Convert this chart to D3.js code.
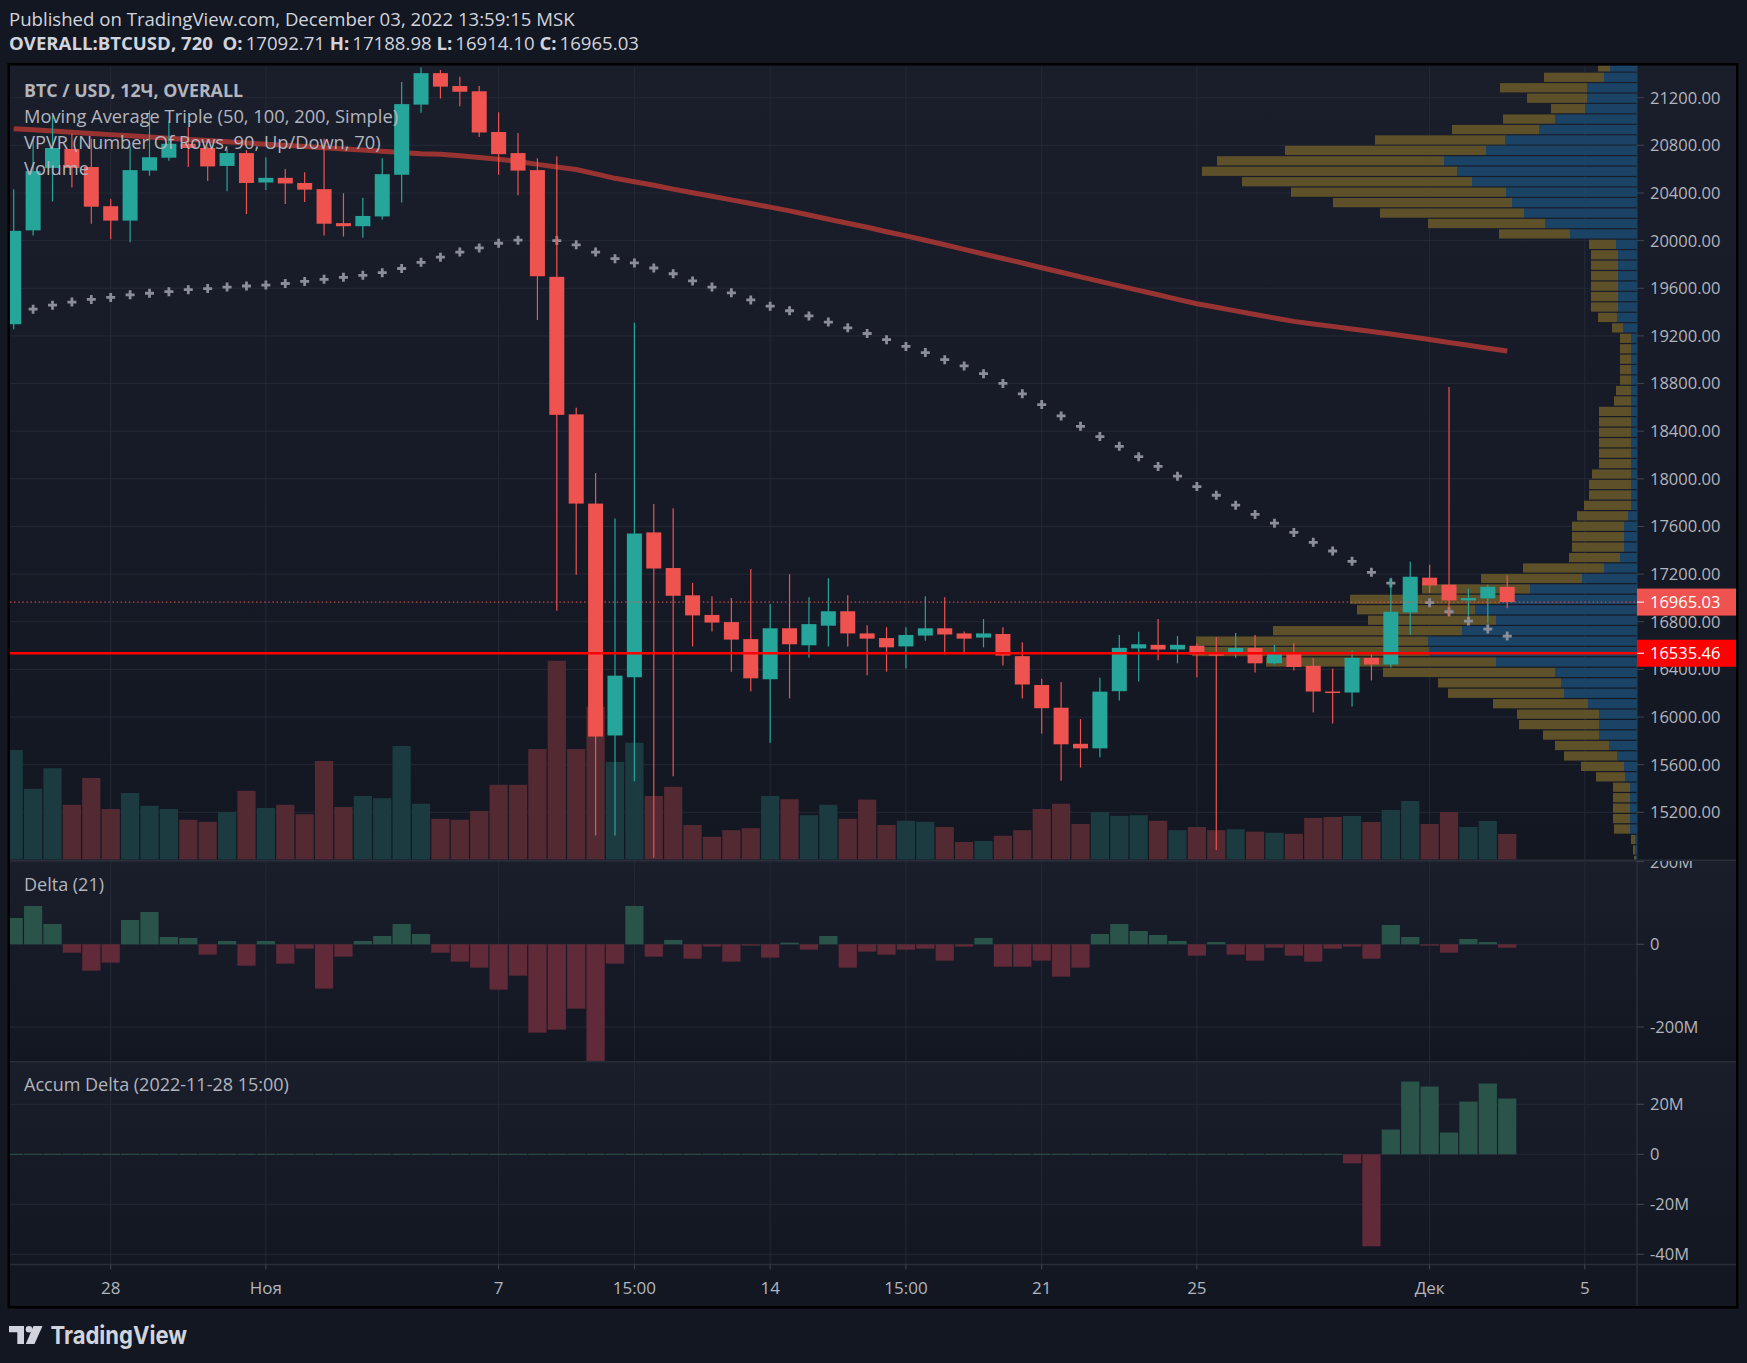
<!DOCTYPE html>
<html><head><meta charset="utf-8">
<script src="https://cdn.jsdelivr.net/npm/d3@7/dist/d3.min.js"></script>
<style>html,body{margin:0;padding:0;background:#131722;}svg{display:block}</style>
</head><body>
<svg id="c" width="1747" height="1363"></svg>
<script>
// ---------------- DATA ----------------
const openP  = [19298,20086,20610,20770,20618,20289,20168,20588,20696,20813,20778,20627,20735,20488,20527,20484,20432,20147,20121,20203,20553,21142,21406,21298,21254,20912,20735,20592,19696,18541,17792,15845,16334,17550,17251,17022,16857,16797,16654,16317,16745,16602,16767,16888,16702,16663,16593,16684,16745,16702,16667,16697,16511,16269,16078,15775,15737,16217,16576,16606,16567,16598,16528,16528,16580,16451,16546,16430,16214,16206,16497,16441,16878,17170,17111,16979,16996,17092.71];
const highP  = [20432,20856,21051,20900,20856,20350,20791,21094,21008,20951,20791,20770,20761,20700,20601,20575,20856,20398,20359,20692,21332,21453,21432,21376,21298,21077,20904,20692,20709,18597,18048,17667,19311,17788,17753,17126,17013,17000,17243,16948,17199,17005,17165,17022,16771,16754,16754,17013,17005,16719,16823,16754,16628,16321,16295,15983,16330,16689,16715,16823,16680,16619,16671,16706,16689,16606,16619,16495,16405,16559,16542,17170,17304,17279,18770,17077,17111,17188.98];
const lowP   = [19255,20043,20328,20445,20142,20012,19986,20545,20670,20618,20501,20415,20224,20424,20307,20324,20043,20034,20025,20177,20320,21073,21194,21129,20869,20553,20380,19333,16892,17195,15005,15005,15460,14819,15503,16593,16719,16381,16217,15784,16156,16498,16593,16593,16351,16381,16407,16641,16524,16533,16585,16433,16156,15862,15464,15576,15663,16139,16299,16477,16451,16334,14884,16498,16373,16442,16390,16038,15945,16088,16307,16416,16691,17041,16845,16850,16786,16914.10];
const closeP = [20082,20584,20778,20610,20285,20168,20592,20700,20813,20778,20623,20735,20484,20527,20480,20428,20142,20121,20207,20558,21146,21406,21293,21250,20908,20726,20588,19701,18537,17792,15836,16347,17541,17247,17018,16853,16793,16650,16325,16745,16611,16780,16888,16702,16658,16585,16689,16745,16693,16658,16702,16516,16273,16074,15771,15737,16213,16581,16611,16567,16606,16524,16516,16580,16451,16546,16420,16214,16203,16497,16441,16884,17178,17105,16979,16999,17094,16965.03];
const volume = [548,354,457,274,408,253,333,269,253,199,189,238,344,258,274,227,493,263,318,307,568,279,204,199,243,374,374,553,994,553,764,488,584,318,364,173,114,147,157,318,302,222,274,204,300,173,194,189,163,88,93,119,147,253,279,178,238,219,222,194,147,163,147,152,140,134,129,208,213,218,188,248,293,178,238,163,193,128];
const maSlow = [20940,20930,20920,20910,20900,20890,20880,20870,20860,20850,20840,20830,20820,20810,20800,20790,20780,20770,20760,20750,20740,20730,20725,20712,20698,20683,20665,20640,20618,20597,20560,20523,20495,20465,20432,20402,20372,20342,20311,20281,20250,20215,20180,20146,20112,20075,20040,20003,19965,19927,19888,19850,19812,19772,19734,19696,19658,19620,19582,19545,19507,19470,19440,19410,19380,19350,19322,19300,19280,19258,19237,19216,19193,19170,19145,19121,19097,19073];
const maFast = [19389,19424,19458,19484,19506,19523,19545,19558,19571,19588,19597,19610,19619,19627,19640,19657,19675,19692,19709,19731,19766,19818,19861,19904,19939,19978,20004,20021,20000,19965,19904,19848,19813,19770,19722,19662,19610,19562,19502,19450,19411,19368,19316,19268,19220,19168,19112,19060,19000,18948,18883,18801,18714,18623,18528,18441,18355,18273,18186,18104,18022,17935,17862,17779,17701,17628,17550,17467,17394,17307,17215,17125,17041,16960,16884,16806,16738,16680];
const delta = [63.7,92.7,49.2,-20.2,-63.7,-44.3,58.8,78.2,17.7,15.3,-25,8,-51.6,8,-46.7,-10.5,-107.2,-29.8,8,20.2,49.2,25,-20.2,-41.9,-56.4,-109.6,-75.8,-213.6,-206.3,-155.6,-282.1,-46.7,92.7,-29.8,10.5,-34.7,-5.6,-41.9,-3.2,-32.2,4,-12.9,20.2,-56.4,-17.7,-25,-12.9,-10.5,-39.5,-5.6,15.3,-54,-54,-39.5,-78.2,-56.4,25,49.2,32.2,22.6,8,-27.4,5.6,-25,-39.5,-8.1,-27.4,-41.9,-10.5,-5.6,-34.7,46.7,17.7,-3.2,-20.2,12.9,5.6,-8.1];
const accumDelta = [0,0,0,0,0,0,0,0,0,0,0,0,0,0,0,0,0,0,0,0,0,0,0,0,0,0,0,0,0,0,0,0,0,0,0,0,0,0,0,0,0,0,0,0,0,0,0,0,0,0,0,0,0,0,0,0,0,0,0,0,0,0,0,0,0,0,0,0,0,-3.6,-36.8,9.9,29.1,27.1,8.7,21.1,28.3,22.3];
const vpUp   = [27,33,50,50,52,82,98,132,151,193,180,165,131,125,113,92,67,21,19,19,19,19,19,19,20,14,6,6,6,6,6,6,6,6,6,6,6,6,6,6,6,6,6,9,13,13,13,17,33,55,107,137,162,141,175,209,208,141,82,76,73,49,38,38,38,28,20,13,12,7,7,7,7,7,2,2,1];
const vpDown = [12,60,87,60,34,52,87,130,201,227,255,230,215,179,144,117,71,27,27,27,27,27,27,27,19,11,11,11,11,11,11,15,17,32,32,32,32,32,32,39,42,42,47,51,52,52,52,51,81,101,108,150,118,128,189,232,237,230,172,123,116,95,82,80,56,54,53,43,29,17,17,17,17,16,4,2,2];
const vpTopPrice = 21497.6;
const vpRowSize = 87.66;
const priceTicks = [21200,20800,20400,20000,19600,19200,18800,18400,18000,17600,17200,16800,16400,16000,15600,15200];
const timeTickIdx = [5,13,25,32,39,46,53,61,73,81];
const timeTickLabels = ["28","Ноя","7","15:00","14","15:00","21","25","Дек","5"];
const deltaTicks = [200,0,-200];
const deltaTickLabels = ["200M","0","-200M"];
const accTicks = [20,0,-20,-40];
const accTickLabels = ["20M","0","-20M","-40M"];
const lastPrice = 16965.03;
const pocPrice = 16535.46;

// ---------------- LAYOUT ----------------
const W = 1747, H = 1363;
const L = 10, R = 1637, AR = 1736;
const mainTop = 65.5, mainBot = 859.6, dTop = 861, dBot = 1061, aTop = 1062.5, aBot = 1264.5, tBot = 1306;
const FONT = "'Open Sans','Noto Sans',sans-serif";
const TXT = "#b2b5be";
const GREEN = "#26a69a", RED = "#ef5350";

const x = d3.scaleLinear().domain([0, 81]).range([13.72, 1584.8]);
const y = d3.scaleLinear().domain([15200, 21200]).range([812.3, 97.7]);
const yVol = d3.scaleLinear().domain([0, 1000]).range([mainBot, mainBot - 200]);
const yD = d3.scaleLinear().domain([-200, 200]).range([1027, 861.6]);
const yA = d3.scaleLinear().domain([-40, 20]).range([1254.3, 1104.3]);
const vpW = d3.scaleLinear().domain([0, d3.max(vpUp.map((u, k) => u + vpDown[k]))]).range([0, 445]);
const step = x(1) - x(0);

const svg = d3.select('#c');
svg.append('rect').attr('width', W).attr('height', H).attr('fill', '#131722');
const defs = svg.append('defs');
const g = defs.append('linearGradient').attr('id', 'pg').attr('x1', 0).attr('y1', 0).attr('x2', 0).attr('y2', 1);
g.append('stop').attr('offset', 0).attr('stop-color', '#1a1e2b');
g.append('stop').attr('offset', 1).attr('stop-color', '#131722');
function clip(id, x0, y0, w, h) { defs.append('clipPath').attr('id', id).append('rect').attr('x', x0).attr('y', y0).attr('width', w).attr('height', h); }
clip('cm', L, mainTop, R - L, mainBot - mainTop);
clip('cd', L, dTop, R - L, dBot - dTop);
clip('ca', L, aTop, R - L, aBot - aTop);
clip('cmx', R, mainTop, AR - R, mainBot - mainTop);
clip('cdx', R, dTop, AR - R, dBot - dTop);
clip('cax', R, aTop, AR - R, aBot - aTop);

// pane backgrounds
[[mainTop, mainBot], [dTop, dBot], [aTop, aBot]].forEach(([t, b]) => {
  svg.append('rect').attr('x', L).attr('y', t).attr('width', AR - L).attr('height', b - t).attr('fill', 'url(#pg)');
});
svg.append('rect').attr('x', L).attr('y', aBot).attr('width', AR - L).attr('height', tBot - aBot).attr('fill', '#131722');

// grid
const grid = svg.append('g').attr('stroke', '#252935').attr('stroke-width', 1);
timeTickIdx.forEach(i => grid.append('line').attr('x1', x(i)).attr('x2', x(i)).attr('y1', mainTop).attr('y2', aBot));
priceTicks.forEach(p => grid.append('line').attr('x1', L).attr('x2', R).attr('y1', y(p)).attr('y2', y(p)));
deltaTicks.forEach(v => grid.append('line').attr('x1', L).attr('x2', R).attr('y1', yD(v)).attr('y2', yD(v)));
accTicks.forEach(v => grid.append('line').attr('x1', L).attr('x2', R).attr('y1', yA(v)).attr('y2', yA(v)));

// separators
const sep = svg.append('g').attr('stroke', '#2a2e39').attr('stroke-width', 1.5);
[860.3, 1061.8, aBot].forEach(v => sep.append('line').attr('x1', L).attr('x2', AR).attr('y1', v).attr('y2', v));
sep.append('line').attr('x1', R).attr('x2', R).attr('y1', mainTop).attr('y2', tBot);

// ---------------- MAIN PANE ----------------
const m = svg.append('g').attr('clip-path', 'url(#cm)');
// VPVR
vpUp.forEach((u, k) => {
  const pTop = vpTopPrice - k * vpRowSize;
  const y0 = y(pTop), y1 = y(pTop - vpRowSize);
  const h = y1 - y0 - 1.2;
  m.append('rect').attr('x', R - vpW(u)).attr('y', y0).attr('width', vpW(u)).attr('height', h).attr('fill', '#1a4366');
  m.append('rect').attr('x', R - vpW(u + vpDown[k])).attr('y', y0).attr('width', vpW(vpDown[k])).attr('height', h).attr('fill', '#5e5029');
});
// volume
volume.forEach((v, i) => {
  const up = closeP[i] >= openP[i];
  m.append('rect').attr('x', x(i) - step / 2 + 0.6).attr('y', yVol(v)).attr('width', step - 1.2).attr('height', yVol(0) - yVol(v))
    .attr('fill', up ? '#1b3b41' : '#532a32');
});
// slow MA
m.append('path').datum(maSlow).attr('fill', 'none').attr('stroke', '#a33533').attr('stroke-opacity', 0.92).attr('stroke-width', 5)
  .attr('stroke-linejoin', 'round').attr('d', d3.line().x((d, i) => x(i)).y(d => y(d)));
// fast MA crosses
maFast.forEach((v, i) => {
  m.append('path').attr('transform', `translate(${x(i)},${y(v)})`).attr('d', 'M-4.5,0H4.5M0,-4.5V4.5')
    .attr('stroke', '#8b8e98').attr('stroke-width', 2.8);
});
// candles
openP.forEach((o, i) => {
  const c = closeP[i], up = c >= o, col = up ? GREEN : RED;
  m.append('line').attr('x1', x(i)).attr('x2', x(i)).attr('y1', y(highP[i])).attr('y2', y(lowP[i])).attr('stroke', col).attr('stroke-width', 1.2);
  const top = y(Math.max(o, c)), bot = y(Math.min(o, c));
  m.append('rect').attr('x', x(i) - 7.5).attr('y', top).attr('width', 15).attr('height', Math.max(1.5, bot - top)).attr('fill', col);
});
// price lines
m.append('line').attr('x1', L).attr('x2', R).attr('y1', y(lastPrice)).attr('y2', y(lastPrice)).attr('stroke', RED).attr('stroke-width', 1).attr('stroke-dasharray', '1.5,2.6');
m.append('line').attr('x1', L).attr('x2', R).attr('y1', y(pocPrice)).attr('y2', y(pocPrice)).attr('stroke', '#ff0000').attr('stroke-width', 2.6);

// legend
const leg = svg.append('g').attr('font-family', FONT).attr('font-size', 18.3).attr('fill', TXT);
leg.append('text').attr('x', 24).attr('y', 96.5).attr('font-weight', 'bold').attr('font-size', 17.8).text('BTC / USD, 12Ч, OVERALL');
leg.append('text').attr('x', 24).attr('y', 122.5).text('Moving Average Triple (50, 100, 200, Simple)');
leg.append('text').attr('x', 24).attr('y', 148.5).text('VPVR (Number Of Rows, 90, Up/Down, 70)');
leg.append('text').attr('x', 24).attr('y', 174.5).text('Volume');

// ---------------- DELTA PANE ----------------
const d = svg.append('g').attr('clip-path', 'url(#cd)');
delta.forEach((v, i) => {
  const y0 = Math.min(yD(v), yD(0)), h = Math.abs(yD(v) - yD(0));
  d.append('rect').attr('x', x(i) - step / 2 + 0.6).attr('y', y0).attr('width', step - 1.2).attr('height', h).attr('fill', v >= 0 ? '#2a5449' : '#612a38');
});
svg.append('text').attr('x', 24).attr('y', 890.5).attr('font-family', FONT).attr('font-size', 18).attr('fill', TXT).text('Delta (21)');

// ---------------- ACCUM DELTA PANE ----------------
const a = svg.append('g').attr('clip-path', 'url(#ca)');
accumDelta.forEach((v, i) => {
  const y0 = Math.min(yA(v), yA(0)), h = Math.max(1, Math.abs(yA(v) - yA(0)));
  a.append('rect').attr('x', x(i) - step / 2 + 0.6).attr('y', v === 0 ? yA(0) - 0.5 : y0).attr('width', step - 1.2).attr('height', h).attr('fill', v >= 0 ? '#2a5449' : '#612a38');
});
svg.append('text').attr('x', 24).attr('y', 1091).attr('font-family', FONT).attr('font-size', 18).attr('fill', TXT).text('Accum Delta (2022-11-28 15:00)');

// ---------------- AXES ----------------
const ax = svg.append('g').attr('font-family', FONT).attr('font-size', 16.5).attr('fill', TXT);
const pax = ax.append('g').attr('clip-path', 'url(#cmx)');
priceTicks.forEach(p => {
  pax.append('line').attr('x1', R).attr('x2', R + 7).attr('y1', y(p)).attr('y2', y(p)).attr('stroke', '#434651');
  pax.append('text').attr('x', 1650).attr('y', y(p)).attr('dy', '0.36em').text(d3.format('.2f')(p));
});
function tag(p, col) {
  pax.append('rect').attr('x', R).attr('y', y(p) - 13.5).attr('width', AR - R).attr('height', 27).attr('fill', col);
  pax.append('line').attr('x1', R).attr('x2', R + 7).attr('y1', y(p)).attr('y2', y(p)).attr('stroke', '#fff');
  pax.append('text').attr('x', 1650).attr('y', y(p)).attr('dy', '0.36em').attr('fill', '#fff').text(d3.format('.2f')(p));
}
tag(lastPrice, RED);
tag(pocPrice, '#ff0000');
const dax = ax.append('g').attr('clip-path', 'url(#cdx)');
deltaTicks.forEach((v, k) => {
  dax.append('line').attr('x1', R).attr('x2', R + 7).attr('y1', yD(v)).attr('y2', yD(v)).attr('stroke', '#434651');
  dax.append('text').attr('x', 1650).attr('y', yD(v)).attr('dy', '0.36em').text(deltaTickLabels[k]);
});
const aax = ax.append('g').attr('clip-path', 'url(#cax)');
accTicks.forEach((v, k) => {
  aax.append('line').attr('x1', R).attr('x2', R + 7).attr('y1', yA(v)).attr('y2', yA(v)).attr('stroke', '#434651');
  aax.append('text').attr('x', 1650).attr('y', yA(v)).attr('dy', '0.36em').text(accTickLabels[k]);
});
// time axis
timeTickIdx.forEach((t, k) => {
  ax.append('line').attr('x1', x(t)).attr('x2', x(t)).attr('y1', aBot).attr('y2', aBot + 5).attr('stroke', '#434651');
  ax.append('text').attr('x', x(t)).attr('y', 1294).attr('text-anchor', 'middle').attr('font-size', 17).text(timeTickLabels[k]);
});

// frame
svg.append('rect').attr('x', 8.75).attr('y', 64.25).attr('width', AR - 8.75 + 1.25).attr('height', tBot - 64.25 + 1.25)
  .attr('fill', 'none').attr('stroke', '#000').attr('stroke-width', 2.5);

// header
const hd = svg.append('g').attr('font-family', FONT).attr('font-size', 18.6).attr('fill', '#d1d4dc');
hd.append('text').attr('x', 9).attr('y', 25.5).text('Published on TradingView.com, December 03, 2022 13:59:15 MSK');
const l2 = hd.append('text').attr('x', 9).attr('y', 50);
[['OVERALL:BTCUSD, 720', true, 0], ['\u00a0\u00a0O:', true, 0], ['17092.71', false, 3], [' H:', true, 0], ['17188.98', false, 3], [' L:', true, 0], ['16914.10', false, 3], [' C:', true, 0], ['16965.03', false, 3]]
  .forEach(([t, b, dx]) => l2.append('tspan').attr('font-weight', b ? 'bold' : 'normal').attr('dx', dx).text(t));

// logo
const lg = svg.append('g').attr('fill', '#d1d4dc');
lg.append('path').attr('d', 'M9,1326H24V1344H17.3V1332.3H9Z');
lg.append('circle').attr('cx', 29).attr('cy', 1329.3).attr('r', 3.3);
lg.append('path').attr('d', 'M33.5,1326H42.5L34.5,1344H25.8Z');
lg.append('text').attr('x', 50.5).attr('y', 1344).attr('font-family', "Inter,'Open Sans',sans-serif").attr('font-weight', 'bold')
  .attr('font-size', 24.5).attr('textLength', 136.5).attr('lengthAdjust', 'spacingAndGlyphs').text('TradingView');
</script>
</body></html>
